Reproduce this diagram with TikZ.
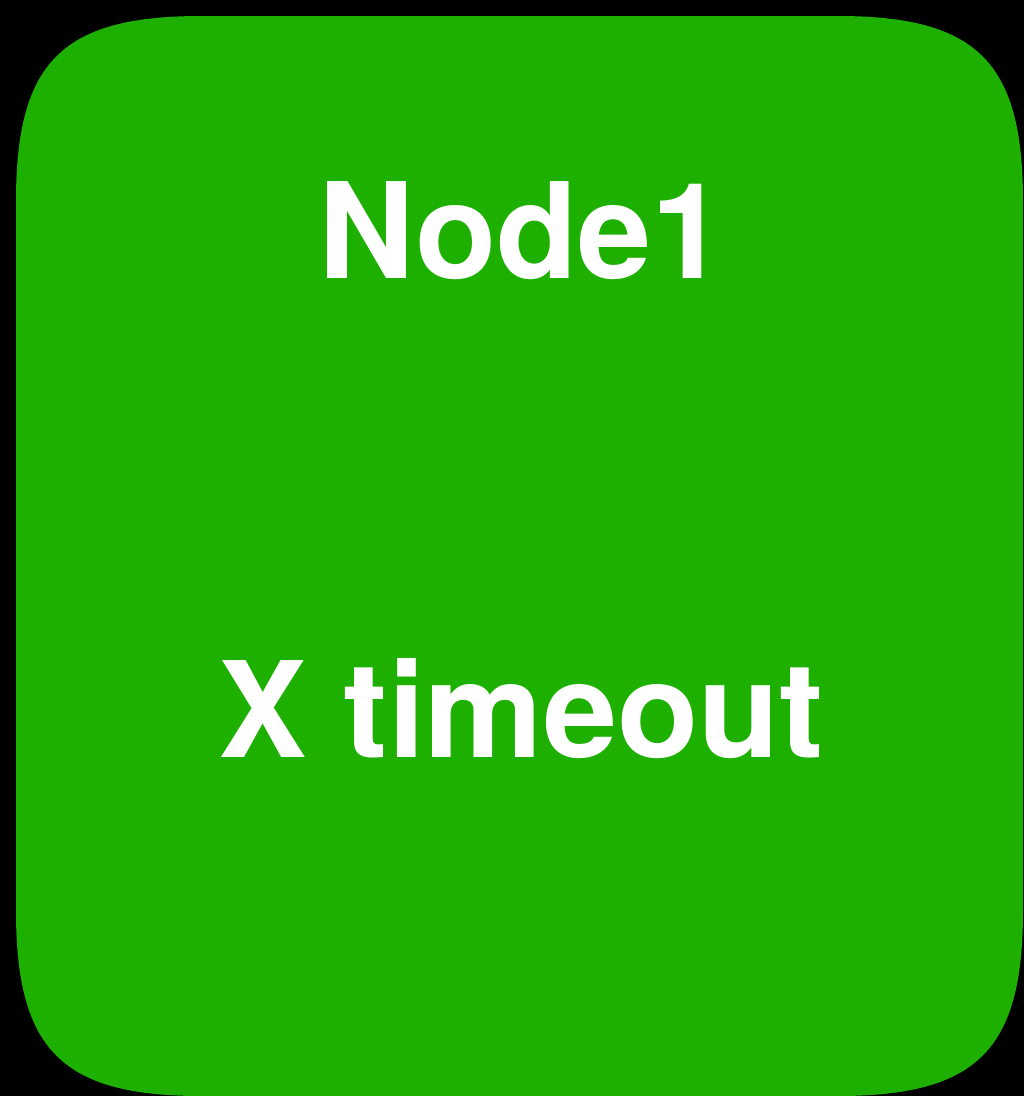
\documentclass[tikz,border=0pt]{standalone}
\usepackage{fontspec}
\setmainfont{TeX Gyre Heros}
\definecolor{nodegreen}{RGB}{29,176,0}
\begin{document}
\begin{tikzpicture}[x=1pt,y=-1pt,
  lbl/.style={text=white,font=\fontsize{133}{133}\selectfont\bfseries,anchor=base,inner sep=0pt}]
\useasboundingbox (0,0) rectangle (1024,1096);
\fill[black] (0,0) rectangle (1024,1096);
\fill[nodegreen] (16,201) .. controls (16,62) and (62,16) .. (201,16)
  -- (838,16) .. controls (977,16) and (1023,62) .. (1023,201)
  -- (1023,911) .. controls (1023,1050) and (977,1096) .. (838,1096)
  -- (201,1096) .. controls (62,1096) and (16,1050) .. (16,911) -- cycle;
\node[lbl] (title) at (522,278) {Node1};
\node[lbl] (sub) at (521,757) {X timeout};
\end{tikzpicture}
\end{document}
